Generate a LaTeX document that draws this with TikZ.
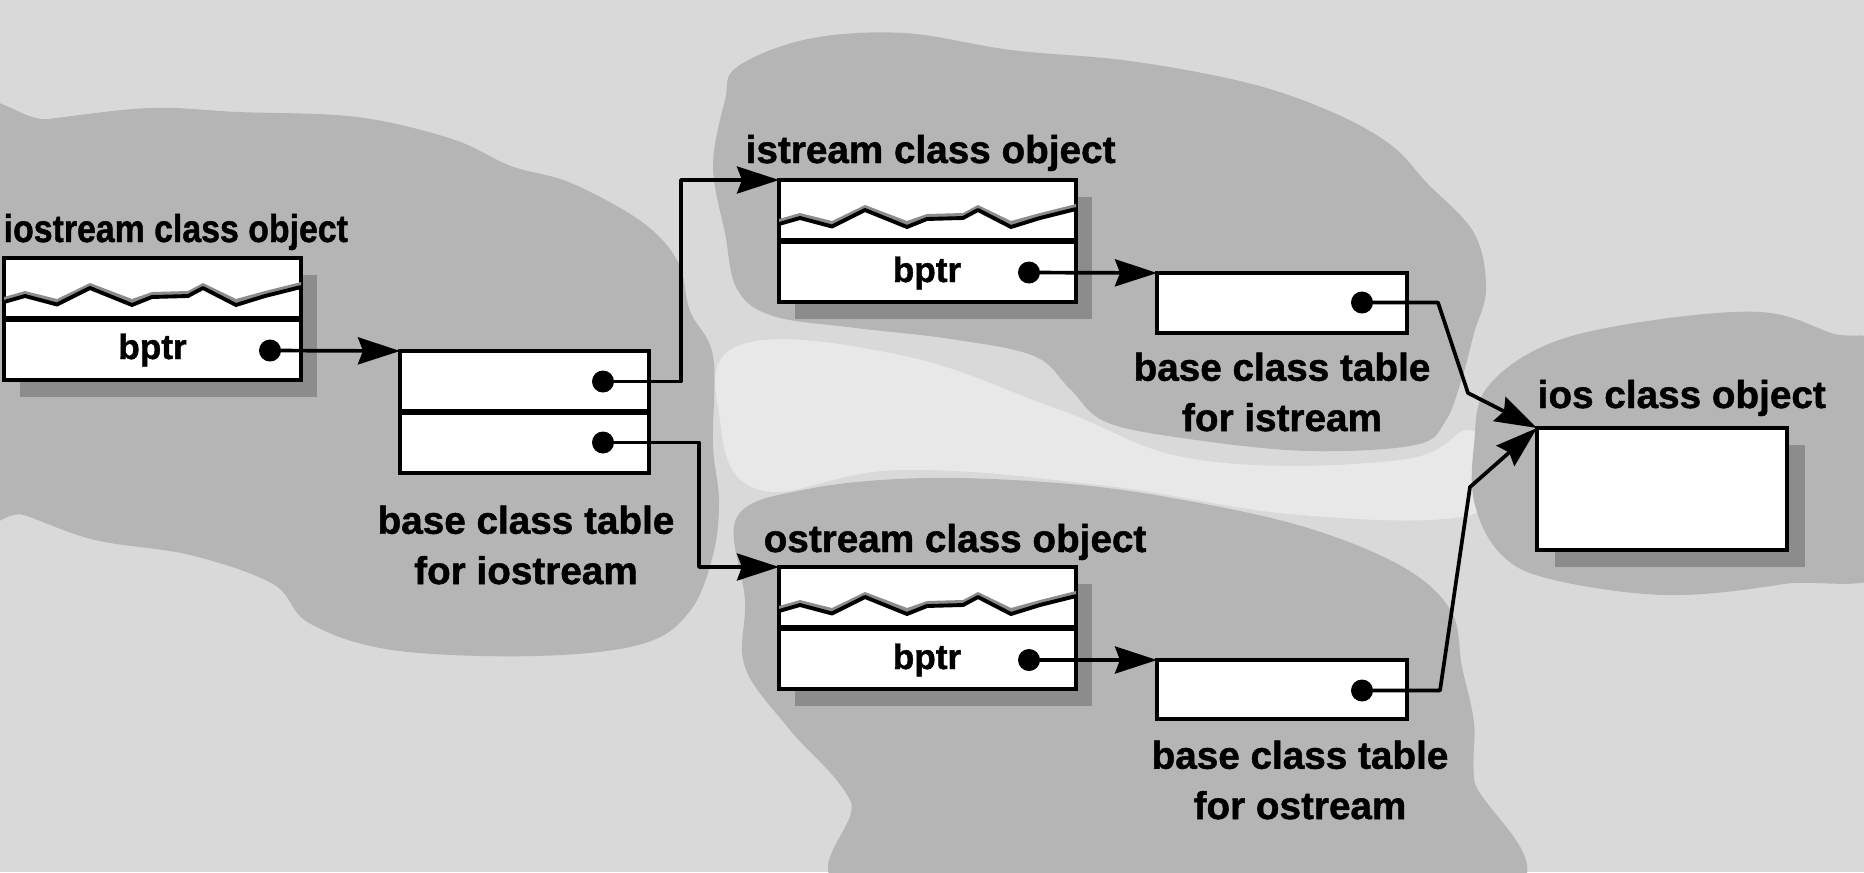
\documentclass[tikz,border=0pt]{standalone}
\usepackage{fontspec}
\usepackage{graphicx}
\setmainfont{Liberation Sans}[BoldFeatures={FakeBold=1.2}]
\usetikzlibrary{arrows.meta,shadows,calc}
\begin{document}
\begin{tikzpicture}[x=0.01cm, y=-0.01cm,
  bg/.style={fill=black!15},
  blob/.style={fill=black!29},
  pale/.style={fill=black!9},
  box/.style={draw=black, line width=1.15pt, fill=white, inner sep=0pt, outer sep=0pt, anchor=north west},
  objbox/.style={box, minimum width=2.97cm, minimum height=1.22cm,
     drop shadow={shadow xshift=0.16cm, shadow yshift=-0.17cm, fill=black!45, opacity=1}},
  tabbox/.style={box, minimum width=2.50cm},
  divider/.style={line width=1.6pt},
  dot/.style={circle, fill=black, inner sep=0pt, minimum size=0.22cm},
  conn/.style={line width=1.05pt, line join=round},
  arr/.style={conn, -{Stealth[length=0.42cm, width=0.27cm, inset=0.05cm]}},
  lab/.style={font=\fontsize{11pt}{14.3pt}\selectfont\bfseries, inner sep=0pt, text=black},
  ptr/.style={font=\fontsize{10pt}{12pt}\selectfont\bfseries, inner sep=0pt, anchor=base},
  wavypic/.pic={
    \fill[black!45] (0,44) -- (21,38) -- (53,46.5) -- (86,30) -- (128,47) -- (148,39) -- (184,38) -- (199,30) -- (232,47) -- (261,38) -- (297,29)
       -- (297,24) -- (261,33) -- (232,41) -- (199,25) -- (184,33) -- (148,34) -- (128,41) -- (86,25) -- (53,41) -- (21,33) -- (0,39) -- cycle;
    \draw[line width=1.1pt, line join=round] (0,44) -- (21,38) -- (53,46.5) -- (86,30) -- (128,47) -- (148,39) -- (184,38) -- (199,30) -- (232,47) -- (261,38) -- (297,29);
  }
]
% background
\fill[bg] (0,0) rectangle (1864,872);
\useasboundingbox (0,0) rectangle (1864,872);
\fill[pale] plot[smooth cycle, tension=0.7] coordinates {(740,345) (900,355) (1060,410) (1200,460) (1400,460) (1470,430) (1490,470) (1470,515) (1300,515) (1100,485) (900,470) (760,490) (720,420)};
% blobs
\fill[blob] plot[smooth cycle, tension=0.6] coordinates {(-40,130) (48,119) (150,108) (238,112) (357,117) (452,139) (511,166) (571,183) (642,222) (678,262) (690,311) (713,356) (713,445) (719,501) (713,555) (690,611) (642,644) (535,656) (392,650) (309,623) (273,584) (190,555) (95,540) (24,515) (-40,495)};
\fill[blob] plot[smooth cycle, tension=0.6] coordinates {(725,100) (737,67) (808,39) (904,33) (1011,50) (1130,61) (1248,83) (1332,112) (1391,145) (1427,183) (1474,233) (1486,289) (1474,333) (1462,378) (1445,422) (1415,445) (1308,451) (1189,439) (1106,422) (1070,389) (1034,356) (951,339) (856,328) (773,316) (737,289) (725,233) (713,166)};
\fill[blob] plot[smooth cycle, tension=0.6] coordinates {(737,517) (808,489) (927,478) (1070,484) (1189,501) (1308,528) (1403,567) (1451,611) (1462,667) (1474,723) (1474,779) (1486,900) (880,900) (850,800) (790,730) (745,667) (745,600)};
\fill[blob] plot[smooth cycle, tension=0.6] coordinates {(1486,389) (1546,345) (1641,322) (1760,312) (1831,333) (1900,361) (1900,560) (1784,584) (1665,595) (1546,578) (1498,551) (1474,501) (1474,445)};

% class object boxes
\node[objbox] (ioobj) at (4,258) {};
\node[objbox] (isobj) at (779,180) {};
\node[objbox] (osobj) at (779,567) {};
\node[box, minimum width=2.50cm, minimum height=1.22cm,
      drop shadow={shadow xshift=0.18cm, shadow yshift=-0.17cm, fill=black!45, opacity=1}] (iosobj) at (1537,428) {};
% base class tables
\node[tabbox, minimum width=2.49cm, minimum height=1.22cm] (iobase) at (400,351) {};
\node[tabbox, minimum height=0.60cm] (isbase) at (1157,273) {};
\node[tabbox, minimum height=0.59cm] (osbase) at (1157,660) {};

% dividers and torn lines
\foreach \b in {ioobj,isobj,osobj,iobase} {\draw[divider] (\b.west) -- (\b.east);}
\pic at (ioobj.north west) {wavypic};
\pic at (isobj.north west) {wavypic};
\pic at (osobj.north west) {wavypic};

% texts
\node[lab, anchor=base west] (iolab) at (3,242) {\scalebox{0.875}[1]{iostream class object}};
\node[lab, anchor=base west] (islab) at (745,163) {istream class object};
\node[lab, anchor=base west] (oslab) at (763,552) {ostream class object};
\node[lab, anchor=base west] (ioslab) at (1537,408) {ios class object};
\node[ptr] (iop) at (152.5,359) {bptr};
\node[ptr] (isp) at (927,282) {bptr};
\node[ptr] (osp) at (927,669) {bptr};
\node[lab, anchor=north, align=center] (b1lab) at (526,505) {base class table\\for iostream};
\node[lab, anchor=north, align=center] (b2lab) at (1282,352) {base class table\\for istream};
\node[lab, anchor=north, align=center] (b3lab) at (1300,740) {base class table\\for ostream};

% pointer dots
\node[dot] (iodot) at (270,350.5) {};
\node[dot] (b1dot) at (603,381.5) {};
\node[dot] (b2dot) at (603,442.5) {};
\node[dot] (isdot) at (1029,272.5) {};
\node[dot] (osdot) at (1029,660) {};
\node[dot] (isbdot) at (1362,302.5) {};
\node[dot] (osbdot) at (1362,690.5) {};

% bend points
\coordinate (k1) at (681,180);
\coordinate (k2) at (699,567);
\coordinate (k3) at (1438,302.5);
\coordinate (k4) at (1468,393);
\coordinate (k5) at (1440,690.5);
\coordinate (k6) at (1470,487);

% connectors
\draw[arr] (iodot.center) -- (iobase.north west);
\draw[arr] (b1dot.center) -| (k1) -- (isobj.north west);
\draw[arr] (b2dot.center) -| (k2) -- (osobj.north west);
\draw[arr] (isdot.center) -- (isbase.north west);
\draw[arr] (osdot.center) -- (osbase.north west);
\draw[arr] (isbdot.center) -- (k3) -- (k4) -- (iosobj.north west);
\draw[arr] (osbdot.center) -- (k5) -- (k6) -- (iosobj.north west);
\end{tikzpicture}
\end{document}
